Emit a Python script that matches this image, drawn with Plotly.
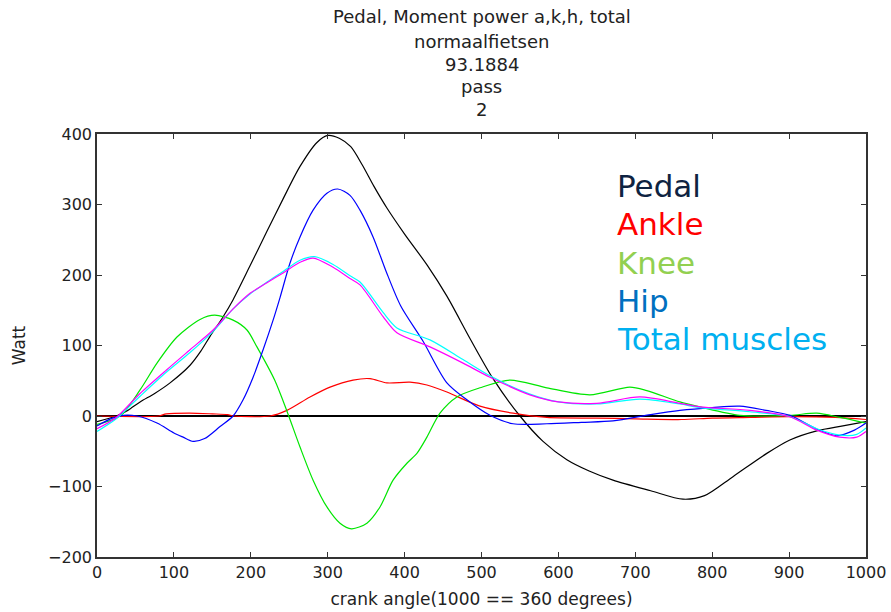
import plotly.graph_objects as go

# ---- data ----
pedal_x = [0, 25, 40, 56, 75, 95, 121, 135, 147, 163, 177, 199, 221, 242, 264, 286, 300, 315, 330, 345, 360, 377, 400, 430, 455, 485, 515, 550, 580, 611, 640, 671, 720, 762, 790, 827, 871, 901, 936, 970, 1000]
pedal_y = [-8, 0, 8, 20, 32, 47, 72, 92, 113, 139, 165, 213, 262, 308, 354, 388, 398, 394, 382, 356, 326, 295, 258, 213, 170, 110, 53, 0, -36, -62, -78, -91, -106, -118, -113, -86, -53, -34, -21, -14, -8]

ankle_x = [0, 80, 90, 120, 150, 170, 178, 225, 247, 277, 303, 333, 355, 377, 407, 429, 455, 498, 541, 585, 650, 700, 760, 800, 850, 901, 960, 1000]
ankle_y = [0, 0, 3, 4, 3, 2, 0, 0, 8, 27, 41, 51, 53, 47, 48, 44, 34, 14, 4, -2, -3, -4, -5, -3, -2, -1, -2, -5]

knee_x = [0, 30, 56, 78, 104, 134, 153, 177, 195, 208, 231, 248, 264, 281, 299, 316, 331, 351, 368, 385, 403, 416, 429, 446, 468, 498, 537, 585, 641, 693, 715, 758, 784, 836, 901, 936, 966, 1000]
knee_y = [-12, 0, 37, 75, 112, 137, 143, 136, 122, 98, 51, 4, -44, -91, -129, -152, -160, -152, -129, -91, -67, -53, -30, 4, 27, 40, 51, 40, 30, 41, 36, 20, 13, 1, 1, 4, -2, -10]

hip_x = [0, 20, 34, 52, 78, 100, 112, 125, 140, 160, 177, 190, 203, 216, 229, 238, 251, 264, 281, 299, 313, 329, 342, 359, 376, 395, 424, 455, 481, 511, 541, 585, 630, 671, 720, 758, 800, 836, 870, 901, 935, 962, 985, 1000]
hip_y = [-14, -3, 1, 0, -10, -24, -30, -36, -32, -15, 0, 23, 55, 94, 136, 168, 217, 254, 292, 316, 322, 313, 292, 254, 205, 156, 106, 47, 23, 1, -11, -11, -9, -7, 2, 8, 12, 14, 8, 1, -18, -28, -20, -10]

total_x = [0, 25, 56, 90, 121, 151, 177, 199, 221, 242, 264, 283, 307, 329, 342, 372, 390, 433, 476, 511, 563, 600, 650, 706, 758, 784, 849, 901, 936, 966, 988, 1000]
total_y = [-22, -4, 28, 62, 90, 120, 152, 173, 190, 205, 221, 226, 215, 199, 190, 147, 125, 108, 80, 57, 31, 20, 17, 24, 17, 12, 6, -1, -18, -27, -26, -17]

sum_x = [0, 25, 56, 90, 121, 151, 177, 199, 221, 242, 264, 281, 307, 329, 342, 372, 390, 433, 476, 511, 563, 600, 650, 706, 758, 784, 849, 901, 936, 966, 988, 1000]
sum_y = [-18, -2, 32, 65, 94, 122, 152, 174, 189, 203, 218, 224, 211, 195, 186, 141, 118, 98, 75, 55, 30, 20, 18, 27, 18, 13, 8, -1, -20, -30, -30, -22]

legend_labels = ["Pedal", "Ankle", "Knee", "Hip", "Total muscles"]
legend_colors = ["#0E2341", "#FF0000", "#92D050", "#0070C0", "#00B0F0"]
legend_yvals = [326, 272, 217, 163, 109]

title_lines = ["Pedal, Moment power a,k,h, total", "normaalfietsen", "93.1884", "pass", "2"]
title_line_px = [17, 41, 64, 87, 110]

W, H = 891, 612
ML, MR, MT, MB = 97, 25, 134, 55
plot_h = H - MT - MB

fig = go.Figure()

series = [
    (pedal_x, pedal_y, "#000000"),
    (ankle_x, ankle_y, "#FF0000"),
    (knee_x, knee_y, "#00E600"),
    (hip_x, hip_y, "#0000FF"),
    (total_x, total_y, "#00FFFF"),
    (sum_x, sum_y, "#FF00FF"),
]
for xs, ys, c in series:
    fig.add_trace(go.Scatter(x=xs, y=ys, mode="lines",
                             line=dict(color=c, width=1.2, shape="spline", smoothing=0.8),
                             showlegend=False, hoverinfo="skip"))

for lab, col, yv in zip(legend_labels, legend_colors, legend_yvals):
    fig.add_annotation(x=673, y=yv, xref="x", yref="y", text=lab, showarrow=False,
                       xanchor="left", yanchor="middle",
                       font=dict(family="DejaVu Sans", size=31, color=col))

for line, py in zip(title_lines, title_line_px):
    fig.add_annotation(x=0.5, xref="paper", y=(H - MB - py) / plot_h, yref="paper",
                       text=line, showarrow=False, xanchor="center", yanchor="middle",
                       font=dict(family="DejaVu Sans", size=18, color="#222"))

tick_font = dict(family="DejaVu Sans", size=16, color="#222")
fig.update_layout(
    width=W, height=H,
    margin=dict(l=ML, r=MR, t=MT, b=MB),
    paper_bgcolor="white", plot_bgcolor="white",
    xaxis=dict(range=[0, 1000], tick0=0, dtick=100, ticks="inside", ticklen=5,
               tickcolor="#333", showline=True, linecolor="#333", linewidth=1.5,
               mirror="ticks", showgrid=False, zeroline=False, tickfont=tick_font,
               automargin=False,
               title=dict(text="crank angle(1000 == 360 degrees)", standoff=12,
                          font=dict(family="DejaVu Sans", size=17, color="#222"))),
    yaxis=dict(range=[-200, 400], tick0=-200, dtick=100, ticks="inside", ticklen=5,
               tickcolor="#333", showline=True, linecolor="#333", linewidth=1.5,
               mirror="ticks", showgrid=False, zeroline=True, zerolinecolor="#000",
               zerolinewidth=1.6, tickfont=tick_font, automargin=False,
               title=dict(text="Watt", standoff=18,
                          font=dict(family="DejaVu Sans", size=17, color="#222"))),
)

fig.write_html("out.html")
